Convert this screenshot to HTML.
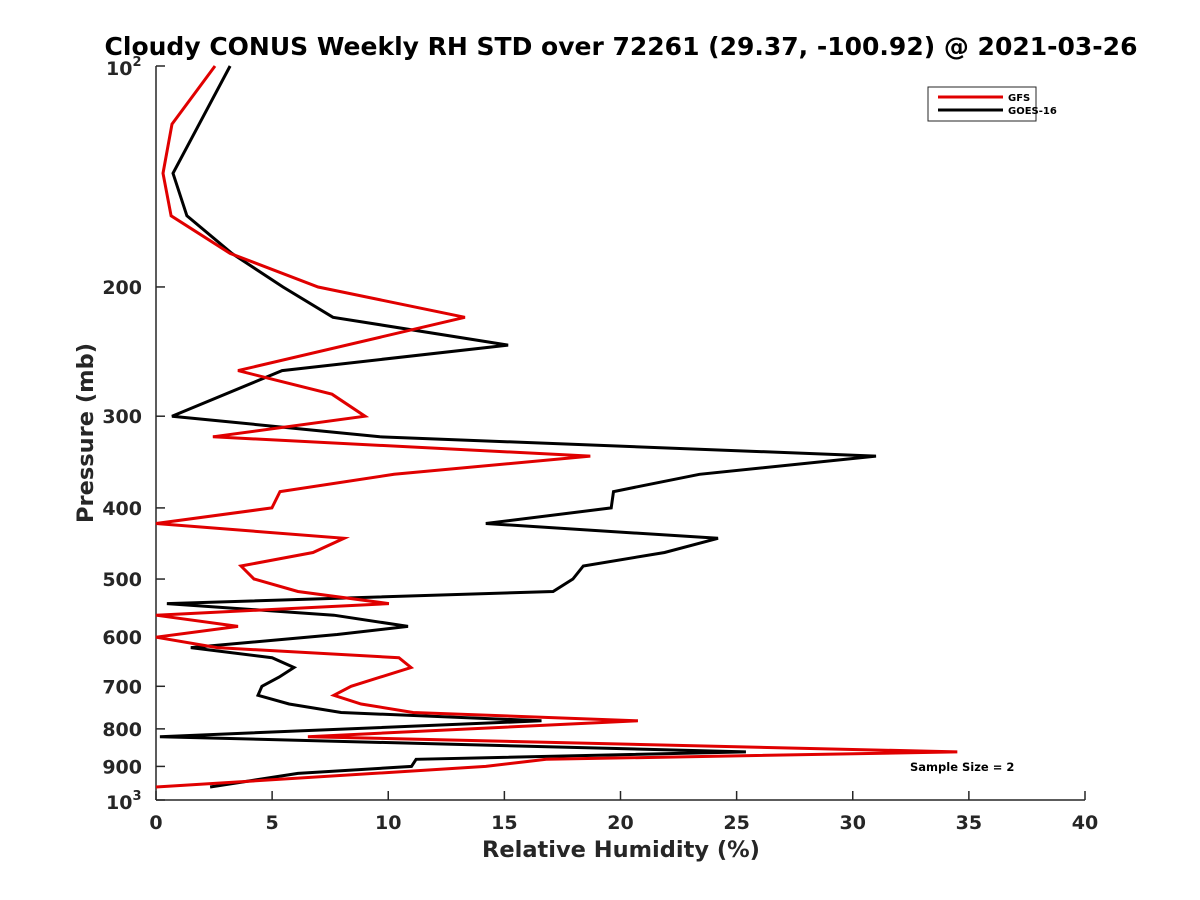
<!DOCTYPE html>
<html><head><meta charset="utf-8"><style>
body{margin:0;background:#fff;}
svg{display:block;font-family:"Liberation Sans","DejaVu Sans",sans-serif;}
</style></head><body>
<svg id="chart" width="1200" height="900" viewBox="0 0 1200 900">
<rect width="1200" height="900" fill="#fff"/>
<text x="621" y="55" text-anchor="middle" font-size="25" font-weight="bold" font-family="DejaVu Sans, sans-serif">Cloudy CONUS Weekly RH STD over 72261 (29.37, -100.92) @ 2021-03-26</text>
<g id="axes"></g>
<g id="series"></g>
<text x="621" y="857" text-anchor="middle" font-size="22.5" font-weight="bold" font-family="DejaVu Sans, sans-serif" fill="#262626">Relative Humidity (%)</text>
<text transform="translate(93,433) rotate(-90)" text-anchor="middle" font-size="22.5" font-weight="bold" font-family="DejaVu Sans, sans-serif" fill="#262626">Pressure (mb)</text>
<g>
<rect x="928" y="87" width="108" height="34" fill="#fff" stroke="#262626" stroke-width="1"/>
<line x1="938" y1="97" x2="1003" y2="97" stroke="#e00000" stroke-width="3"/>
<text x="1008" y="101" font-size="10" font-weight="bold" font-family="DejaVu Sans, sans-serif">GFS</text>
<line x1="938" y1="110" x2="1003" y2="110" stroke="#000" stroke-width="3"/>
<text x="1008" y="114" font-size="10" font-weight="bold" font-family="DejaVu Sans, sans-serif">GOES-16</text>
</g>
<text x="910" y="771" font-size="11.5" font-weight="bold" font-family="DejaVu Sans, sans-serif">Sample Size = 2</text>
</svg>
<script>
const xTicks = [0,5,10,15,20,25,30,35,40];
const yTicks = [200,300,400,500,600,700,800,900];
const gfsPressure = [100,120,140,160,180,200,220,260,280,300,320,340,360,380,400,420,440,460,480,500,520,540,560,580,600,620,640,660,700,720,740,760,780,820,860,880,900,960];
const gfsValues = [2.54,0.69,0.30,0.65,3.19,6.98,13.3,3.53,7.58,9.0,2.45,18.7,10.25,5.34,4.99,0,8.1,6.76,3.66,4.22,6.11,10.03,0,3.53,0,2.63,10.46,10.98,8.4,7.66,8.83,11.07,20.75,6.54,34.5,16.8,14.2,0];
const goesPressure = [100,140,160,180,200,220,240,260,300,320,340,360,380,400,420,440,460,480,500,520,540,560,580,595,620,640,660,680,700,720,740,760,780,820,860,880,900,920,960];
const goesValues = [3.19,0.73,1.33,3.27,5.47,7.62,15.16,5.43,0.69,9.64,31.0,23.4,19.7,19.6,14.2,24.2,21.9,18.4,17.95,17.1,0.47,7.66,10.85,7.8,1.5,5.0,5.94,5.3,4.56,4.39,5.73,7.97,16.6,0.17,25.4,11.2,11.0,6.11,2.33];

const X0=156,X1=1085,Y0=66,Y1=800;
function xs(v){return X0+(v-0)/(40-0)*(X1-X0);}
function ys(p){return Y0+(Math.log10(p)-2)*(Y1-Y0);}
const NS="http://www.w3.org/2000/svg";
const axes=document.getElementById('axes');
const series=document.getElementById('series');
function mk(tag,attrs,parent){const e=document.createElementNS(NS,tag);for(const k in attrs)e.setAttribute(k,attrs[k]);parent.appendChild(e);return e;}

const xl=mk('line',{x1:X0,y1:Y1,x2:X1,y2:Y1,stroke:'#262626','stroke-width':1.5},axes);


const yl=mk('line',{x1:X0,y1:Y0,x2:X0,y2:Y1,stroke:'#262626','stroke-width':1.5},axes);



xTicks.forEach(t=>{
  const l=mk('line',{x1:xs(t),y1:Y1,x2:xs(t),y2:Y1-9,stroke:'#262626','stroke-width':1.5},axes);
  
  
  const tx=mk('text',{x:xs(t),y:Y1+29,'text-anchor':'middle','font-size':19,'font-weight':'bold','font-family':'DejaVu Sans, sans-serif',fill:'#262626'},axes);
  tx.textContent=t;
  
  
});
[100,1000].concat(yTicks).forEach(t=>{
  const l=mk('line',{x1:X0,y1:ys(t),x2:X0+9,y2:ys(t),stroke:'#262626','stroke-width':1.5},axes);
  
  
});
yTicks.forEach(t=>{
  const tx=mk('text',{x:X0-14,y:ys(t)+7,'text-anchor':'end','font-size':19,'font-weight':'bold','font-family':'DejaVu Sans, sans-serif',fill:'#262626'},axes);
  tx.textContent=t;
  
  
});
[[100,'2'],[1000,'3']].forEach(([p,e])=>{
  const tx=mk('text',{x:X0-50,y:ys(p)+9,'font-size':19,'font-weight':'bold','font-family':'DejaVu Sans, sans-serif',fill:'#262626'},axes);
  tx.textContent='10';
  
  
  const sp=mk('tspan',{dy:-9,'font-size':13},tx);
  sp.textContent=e;
});

function drawLine(vals,pres,color,name){
  const pts=vals.map((v,i)=>xs(v).toFixed(1)+','+ys(pres[i]).toFixed(1)).join(' ');
  const pl=mk('polyline',{points:pts,fill:'none',stroke:color,'stroke-width':3,'stroke-linejoin':'miter'},series);
  
  
}
drawLine(goesValues,goesPressure,'#000','goes16-line');
drawLine(gfsValues,gfsPressure,'#e00000','gfs-line');
</script>
</body></html>
